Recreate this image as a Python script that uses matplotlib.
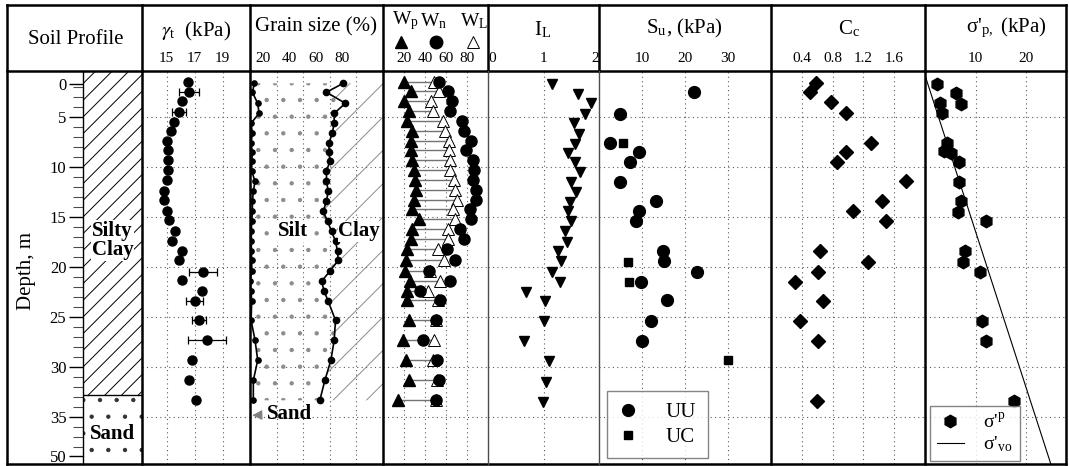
import numpy as np
import matplotlib
matplotlib.use("Agg")
import matplotlib.pyplot as plt
from matplotlib.lines import Line2D
from matplotlib.transforms import ScaledTranslation

plt.rcParams['font.family'] = ['Liberation Serif', 'DejaVu Serif']
plt.rcParams['mathtext.fontset'] = 'stix'
plt.rcParams['hatch.linewidth'] = 0.7

# ---- data (depth in m) ----
layer_names = ["Silty\nClay", "Sand"]
layer_bounds = [0.37, 32.8, 39.67]

gamma_depth = [1.5, 2.5, 3.4, 4.5, 5.5, 6.4, 7.4, 8.3, 9.3, 10.3, 11.3, 12.4, 13.3, 14.4,
               15.3, 16.4, 17.4, 18.4, 19.3, 20.5, 21.3, 22.4, 23.4, 25.3, 27.3, 29.3, 31.3, 33.3]
gamma_t = [16.5, 16.6, 16.1, 15.9, 15.5, 15.3, 15.0, 15.1, 15.1, 15.1, 15.0, 14.8, 14.8, 15.0,
           15.2, 15.6, 15.4, 16.1, 15.9, 17.6, 16.1, 17.5, 17.0, 17.3, 17.9, 16.8, 16.6, 17.1]
gamma_err_depth = [2.5, 4.5, 20.5, 23.4, 25.3, 27.3]
gamma_err_val = [16.6, 15.9, 17.6, 17.0, 17.3, 17.9]
gamma_err = [0.7, 0.5, 1.0, 0.6, 0.5, 1.35]

grain_depth = [1.6, 2.5, 3.6, 4.6, 5.6, 6.6, 7.6, 8.5, 9.4, 10.4, 11.4, 12.4, 13.4, 14.4,
               15.4, 16.4, 17.4, 18.4, 19.3, 20.4, 21.4, 22.4, 23.4, 25.3, 27.3, 29.3, 31.3, 33.3]
sand_pct = [3.3, 1.8, 5.8, 6.8, 0.8, 1.8, 0.8, 1.8, 1.3, 1.3, 3.8, 2.5, 1.8, 1.8,
            1.3, 1.0, 1.0, 1.0, 1.3, 1.3, 0.0, 0.8, 1.3, 0.8, 3.8, 5.8, 2.5, 2.5]
silt_sand_pct = [70, 57.5, 71.7, 63.3, 63.3, 61.8, 59.3, 59.5, 60, 57.5, 57.5, 58.8, 57.5, 55,
                 58.3, 61.3, 64.3, 65.8, 66.3, 60, 53.8, 55.8, 58.8, 64.3, 63.3, 60.8, 56.3, 52.5]

w_depth = [1.5, 2.4, 3.4, 4.4, 5.4, 6.4, 7.4, 8.3, 9.3, 10.3, 11.3, 12.3, 13.3, 14.2,
           15.2, 16.2, 17.2, 18.2, 19.3, 20.4, 21.4, 22.4, 23.3, 25.3, 27.3, 29.3, 31.3, 33.3]
w_p = [20, 26.4, 20, 24.8, 23.2, 28, 26.4, 26.4, 28, 29.7, 30.6, 31.3, 29.7, 28,
       34.5, 28, 26.4, 23.2, 21.6, 21, 25.5, 23.2, 23.2, 24.8, 19, 22.2, 24.8, 14.5]
w_n = [53.8, 61.8, 66.1, 64.1, 75.7, 77, 83.8, 79, 85.4, 87, 86, 88.6, 88.6, 82.8,
       83.5, 73.1, 77, 60.9, 68.3, 43.5, 63.5, 35.2, 54.5, 50.6, 38.4, 51.2, 53.1, 50.9]
w_l = [49, 53.8, 45.8, 47.4, 57, 58.6, 62.8, 62.8, 64.1, 64.1, 67.3, 68.3, 70, 66.7,
       68.3, 61.8, 61.8, 52.2, 57.7, 45, 54.5, 42.5, 52, 50, 49, 48, 51, 50]

il_depth = [1.7, 2.7, 3.6, 4.7, 5.6, 6.7, 7.7, 8.6, 9.5, 10.5, 11.5, 12.5, 13.5, 14.4,
            15.4, 16.4, 17.5, 18.4, 19.4, 20.5, 21.5, 22.5, 23.4, 25.4, 27.4, 29.4, 31.5, 33.5]
i_l = [1.16, 1.63, 1.85, 1.74, 1.55, 1.64, 1.56, 1.45, 1.56, 1.65, 1.50, 1.58, 1.47, 1.44,
       1.49, 1.39, 1.43, 1.27, 1.32, 1.15, 1.29, 0.69, 1.02, 1.01, 0.64, 1.10, 1.04, 0.99]

uu_depth = [2.5, 4.7, 7.6, 8.5, 9.5, 11.5, 13.4, 14.4, 15.4, 18.4, 19.4, 20.5, 21.5, 23.3, 25.4, 27.4]
su_uu = [22.0, 4.9, 2.45, 9.2, 7.1, 4.9, 13.2, 9.2, 8.6, 14.8, 15.1, 22.7, 9.7, 15.9, 12.1, 9.9]
uc_depth = [7.6, 19.5, 21.5, 29.3]
su_uc = [5.5, 6.7, 7.0, 30.1]

cc_depth = [1.6, 2.5, 3.5, 4.6, 7.6, 8.5, 9.5, 11.4, 13.4, 14.4, 15.4, 18.4, 19.5, 20.5,
            21.5, 23.4, 25.4, 27.4, 33.4]
c_c = [0.58, 0.50, 0.78, 0.98, 1.30, 0.98, 0.86, 1.75, 1.44, 1.07, 1.49, 0.63, 1.26, 0.61,
       0.31, 0.68, 0.38, 0.61, 0.60]

sp_depth = [1.7, 2.6, 3.6, 3.7, 4.6, 7.6, 8.4, 8.6, 9.5, 11.5, 13.4, 14.5, 15.4, 18.4,
            19.5, 20.5, 25.4, 27.4, 33.4]
sigma_p = [2.4, 6.1, 2.9, 7.2, 3.4, 4.3, 3.7, 5.2, 6.7, 6.8, 7.2, 6.5, 12.1, 8.0,
           7.6, 10.8, 11.25, 12.0, 17.7]
svo_depth = [0.8, 39.67]
sigma_vo = [0.0, 24.9]

# ---- layout, pixel positions of the 1069 x 466 frame ----
W, H = 1069, 466
TOP, HDR, BOT = 5, 71, 464
LEFT, RIGHT = 7, 1066
ymin, ymax = 39.67, 0.37


def fx(px):
    return px / W


def fy(py):
    return 1 - py / H


fig = plt.figure(figsize=(W / 100, H / 100), dpi=100)


def panel(x0, x1):
    ax = fig.add_axes([fx(x0), fy(BOT), (x1 - x0) / W, (BOT - HDR) / H])
    ax.set_ylim(ymin, ymax)
    for s in ax.spines.values():
        s.set_visible(False)
    ax.tick_params(axis='y', left=False, labelleft=False)
    ax.tick_params(axis='x', bottom=False, labelbottom=False, top=True, labeltop=True,
                   length=0, pad=4, labelsize=11)
    ax.set_yticks([5, 10, 15, 20, 25, 30, 35])
    ax.grid(True, ls=(0, (1, 3)), color='0.35', lw=0.8)
    ax.set_axisbelow(True)
    return ax


# soil profile column
ax_p = fig.add_axes([fx(83), fy(BOT), 59 / W, (BOT - HDR) / H])
ax_p.set_xlim(0, 1)
ax_p.set_ylim(ymin, ymax)
for s in ['top', 'right', 'bottom']:
    ax_p.spines[s].set_visible(False)
ax_p.spines['left'].set_linewidth(1.0)
ax_p.set_xticks([])
ax_p.set_yticks([1.67, 5, 10, 15, 20, 25, 30, 35, 38.9])
ax_p.set_yticklabels(['0', '5', '10', '15', '20', '25', '30', '35', '50'])
minor = [d for d in range(2, 39) if d % 5 != 0]
ax_p.set_yticks(minor, minor=True)
ax_p.tick_params(axis='y', which='major', length=10, width=1, pad=2, labelsize=12)
ax_p.tick_params(axis='y', which='minor', length=7, width=0.8, color='0.3')
ax_p.fill_betweenx(layer_bounds[0:2], 0, 1, hatch='//', facecolor='white', edgecolor='black', lw=0)
ax_p.fill_betweenx(layer_bounds[1:3], 0, 1, hatch='.', facecolor='white', edgecolor='0.2', lw=0)
ax_p.axhline(layer_bounds[1], color='black', lw=1)
ax_p.text(0.5, 17.3, layer_names[0], ha='center', va='center', fontsize=15, fontweight='bold',
          linespacing=0.95, bbox=dict(facecolor='white', edgecolor='none', pad=0.5))
ax_p.text(0.5, 36.7, layer_names[1], ha='center', va='center', fontsize=15, fontweight='bold',
          bbox=dict(facecolor='white', edgecolor='none', pad=0.5))
fig.text(fx(26), fy(271), "Depth, m", rotation=90, ha='center', va='center', fontsize=15)

# unit weight
ax_g = panel(142, 250)
ax_g.set_xlim(13.24, 20.95)
ax_g.set_xticks([15, 17, 19])
ax_g.errorbar(gamma_err_val, gamma_err_depth, xerr=gamma_err, fmt='none', ecolor='black',
              elinewidth=0.9, capsize=3, capthick=0.9)
ax_g.plot(gamma_t, gamma_depth, 'o', color='black', ms=6.5)

# grain size
ax_s = panel(250, 383)
ax_s.set_xlim(0, 100)
ax_s.set_xticks([20, 40, 60, 80])
for lab in ax_s.get_xticklabels():
    lab.set_transform(lab.get_transform() + ScaledTranslation(-0.14, 0, fig.dpi_scale_trans))
ax_s.fill_betweenx(grain_depth, silt_sand_pct, 100, hatch='/', facecolor='none',
                   edgecolor='0.55', lw=0)
ax_s.fill_betweenx(grain_depth, sand_pct, silt_sand_pct, hatch='.', facecolor='none',
                   edgecolor='0.55', lw=0)
ax_s.plot(sand_pct, grain_depth, '-o', color='black', lw=1.2, ms=3.8)
ax_s.plot(silt_sand_pct, grain_depth, '-o', color='black', lw=1.2, ms=4.5)
ax_s.text(32, 16.4, "Silt", ha='center', va='center', fontsize=15, fontweight='bold',
          bbox=dict(facecolor='white', edgecolor='none', pad=0.3))
ax_s.text(81.8, 16.4, "Clay", ha='center', va='center', fontsize=15, fontweight='bold',
          bbox=dict(facecolor='white', edgecolor='none', pad=0.3))
ax_s.annotate("Sand", xy=(1.7, 34.8), xytext=(30, 34.7), ha='center', va='center',
              fontsize=15, fontweight='bold',
              arrowprops=dict(arrowstyle='-|>', color='0.5', lw=0.8, shrinkB=0))

# water contents
ax_w = panel(383, 488)
ax_w.set_xlim(0, 100)
ax_w.set_xticks([20, 40, 60, 80])
ax_w.hlines(w_depth, w_p, w_l, color='0.45', lw=1.0)
ax_w.plot(w_l, w_depth, '^', mfc='white', mec='black', mew=0.7, ms=8)
ax_w.plot(w_p, w_depth, '^', color='black', ms=8)
ax_w.plot(w_n, w_depth, 'o', color='black', ms=8)

# liquidity index
ax_i = panel(488, 599)
ax_i.set_xlim(0, 2)
ax_i.set_xticks([0, 1, 2])
ticks = ax_i.get_xticklabels()
ticks[0].set_ha('left')
ticks[-1].set_ha('right')
ax_i.plot(i_l, il_depth, 'v', color='black', ms=7.5)

# undrained strength
ax_u = panel(599, 771)
ax_u.set_xlim(0, 40)
ax_u.set_xticks([10, 20, 30])
ax_u.plot(su_uu, uu_depth, 'o', color='black', ms=8.5, label='UU')
ax_u.plot(su_uc, uc_depth, 's', color='black', ms=6, label='UC')
leg = ax_u.legend(loc='lower left', bbox_to_anchor=(0.044, 0.014), fontsize=15, frameon=True,
                  fancybox=False, edgecolor='0.4', borderpad=0.55, handletextpad=1.3,
                  labelspacing=0.25, borderaxespad=0, handlelength=1.0)
leg.get_frame().set_linewidth(1.0)

# compression index
ax_c = panel(771, 925)
ax_c.set_xlim(0, 2)
ax_c.set_xticks([0.4, 0.8, 1.2, 1.6])
ax_c.plot(c_c, cc_depth, 'D', color='black', ms=7.5)

# preconsolidation pressure
ax_sp = panel(925, 1066)
ax_sp.set_xlim(0, 27.9)
ax_sp.set_xticks([10, 20])
ax_sp.plot(sigma_vo, svo_depth, '-', color='black', lw=0.8,
           label=r"σ'$_{\mathregular{vo}}$")
ax_sp.plot(sigma_p, sp_depth, 'h', color='black', ms=9, label=r"σ'$^{\mathregular{p}}$")
handles, labels = ax_sp.get_legend_handles_labels()
leg2 = ax_sp.legend(handles[::-1], labels[::-1], loc='lower left', bbox_to_anchor=(0.035, 0.008),
                    fontsize=14, fancybox=False, edgecolor='0.4', borderpad=0.35,
                    handletextpad=1.0, labelspacing=0.15, borderaxespad=0, handlelength=1.4)
leg2.get_frame().set_linewidth(1.0)

# ---- frame and header ----
thick = 1.8
frame = [((LEFT, RIGHT), (TOP, TOP)), ((LEFT, RIGHT), (BOT, BOT)), ((LEFT, RIGHT), (HDR, HDR)),
         ((LEFT, LEFT), (TOP, BOT)), ((RIGHT, RIGHT), (TOP, BOT))]
for xs, ys in frame:
    fig.add_artist(Line2D([fx(x) for x in xs], [fy(y) for y in ys], color='black', lw=thick))
for x in [142, 250, 383, 488, 599, 771, 925]:
    fig.add_artist(Line2D([fx(x), fx(x)], [fy(TOP), fy(HDR)], color='black', lw=thick))
for x in [142, 250, 383, 771, 925]:
    fig.add_artist(Line2D([fx(x), fx(x)], [fy(HDR), fy(BOT)], color='black', lw=thick))
for x in [488, 599]:
    fig.add_artist(Line2D([fx(x), fx(x)], [fy(HDR), fy(BOT)], color='0.3', lw=1.0))

fig.text(fx(76), fy(40), "Soil Profile", ha='center', va='center', fontsize=15)
fig.text(fx(196), fy(31), r"$\gamma_{\mathregular{t}}$  (kPa)", ha='center', va='center', fontsize=15)
fig.text(fx(316), fy(27), "Grain size (%)", ha='center', va='center', fontsize=15)
fig.text(fx(405), fy(21), r"W$_{\mathregular{p}}$", ha='center', va='center', fontsize=14)
fig.text(fx(434), fy(21), r"W$_{\mathregular{n}}$", ha='center', va='center', fontsize=14)
fig.text(fx(474), fy(21), r"W$_{\mathregular{L}}$", ha='center', va='center', fontsize=14)
fig.add_artist(Line2D([fx(401)], [fy(42)], marker='^', color='black', ms=8))
fig.add_artist(Line2D([fx(436)], [fy(42)], marker='o', color='black', ms=9))
fig.add_artist(Line2D([fx(473)], [fy(42)], marker='^', mfc='white', mec='black', mew=0.7, ms=8))
fig.text(fx(543), fy(30), r"I$_{\mathregular{L}}$", ha='center', va='center', fontsize=15)
fig.text(fx(684), fy(28), r"S$_{\mathregular{u}}$, (kPa)", ha='center', va='center', fontsize=15)
fig.text(fx(849), fy(29), r"C$_{\mathregular{c}}$", ha='center', va='center', fontsize=15)
fig.text(fx(1006), fy(28), r"σ'$_{\mathregular{p,}}$ (kPa)", ha='center', va='center', fontsize=15)

fig.savefig("out.png", dpi=100)
